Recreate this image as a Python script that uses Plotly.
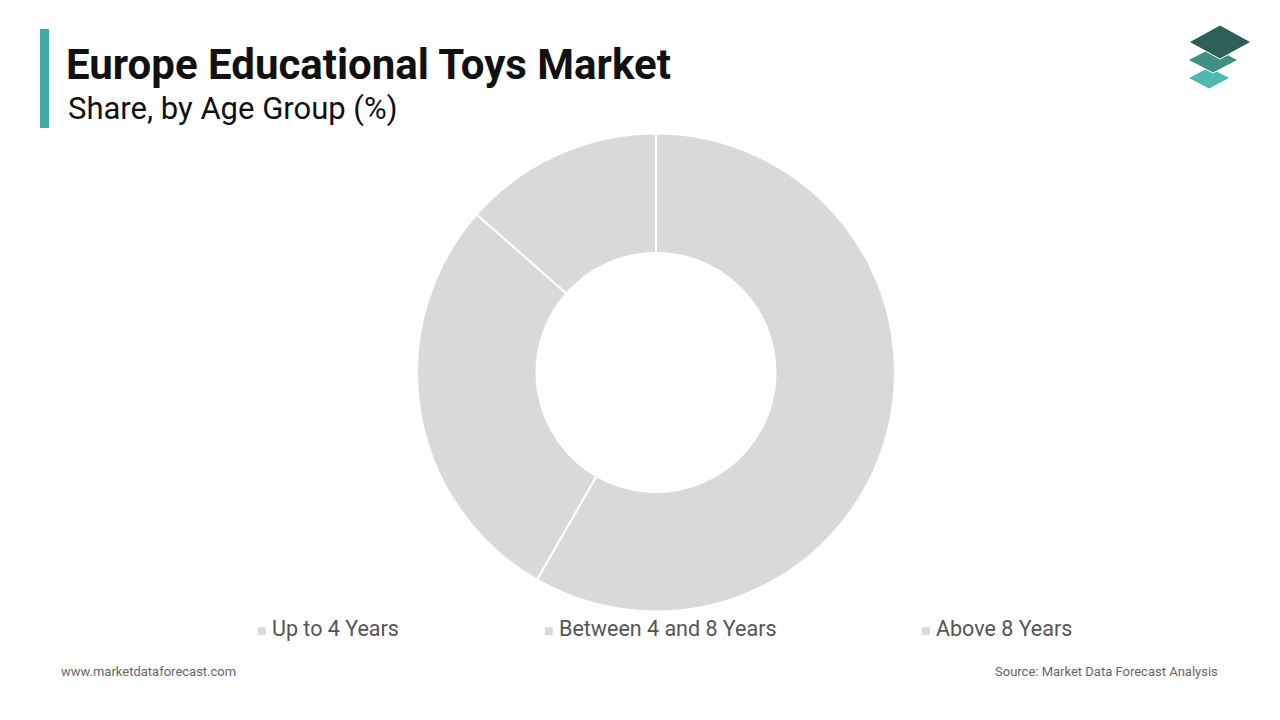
import plotly.graph_objects as go

labels = ['Up to 4 Years', 'Between 4 and 8 Years', 'Above 8 Years']
shares = [58.3, 28.2, 13.5]
legend_x = [257, 544, 921]

W, H, OFF = 1264, 704, 8


def px(x):
    return (x - OFF) / W


def py(y):
    return 1 - (y - OFF) / H


fig = go.Figure(go.Pie(
    labels=labels, values=shares, hole=0.5, sort=False, direction='clockwise', rotation=0,
    marker=dict(colors=['#d9d9d9'] * 3, line=dict(color='white', width=2)),
    textinfo='none', showlegend=False,
    domain=dict(x=[px(417), px(895)], y=[py(612), py(133)]),
))

ann = [
    dict(text='<b>Europe Educational Toys Market</b>', x=px(64), y=py(65), xanchor='left', yanchor='middle',
         font=dict(size=42, color='#111', family='Roboto')),
    dict(text='Share, by Age Group (%)', x=px(66), y=py(108), xanchor='left', yanchor='middle',
         font=dict(size=31, color='#111', family='Roboto')),
    dict(text='www.marketdataforecast.com', x=px(59), y=py(671), xanchor='left', yanchor='middle',
         font=dict(size=13, color='#666', family='Roboto')),
    dict(text='Source: Market Data Forecast Analysis', x=px(1220), y=py(671), xanchor='right', yanchor='middle',
         font=dict(size=13, color='#666', family='Roboto')),
]
for lab, lx in zip(labels, legend_x):
    ann.append(dict(text="<span style='color:#d9d9d9;font-size:16px'>■</span> " + lab, x=px(lx - 2), y=py(628),
                    xanchor='left', yanchor='middle', font=dict(size=21.5, color='#555', family='Roboto')))
for a in ann:
    a.update(xref='paper', yref='paper', showarrow=False)

shapes = [dict(type='rect', xref='paper', yref='paper', x0=px(40), x1=px(49), y0=py(128), y1=py(29),
               fillcolor='#3fa9a5', line=dict(width=0))]
# logo: three stacked diamonds, bottom first
for cx, cy, w, h, col in [(1209, 78, 42, 22, '#4fb8b0'), (1213, 60, 50, 26, '#3f8f85'), (1220, 42, 62, 34, '#2f5f58')]:
    p = [(cx, cy - h / 2), (cx + w / 2, cy), (cx, cy + h / 2), (cx - w / 2, cy)]
    path = 'M ' + ' L '.join(f'{px(x)},{py(y)}' for x, y in p) + ' Z'
    shapes.append(dict(type='path', xref='paper', yref='paper', path=path, fillcolor=col,
                       line=dict(color='white', width=1)))

fig.update_layout(width=W, height=H, margin=dict(l=0, r=0, t=0, b=0), paper_bgcolor='white',
                  annotations=ann, shapes=shapes)
fig.write_html('out.html')
